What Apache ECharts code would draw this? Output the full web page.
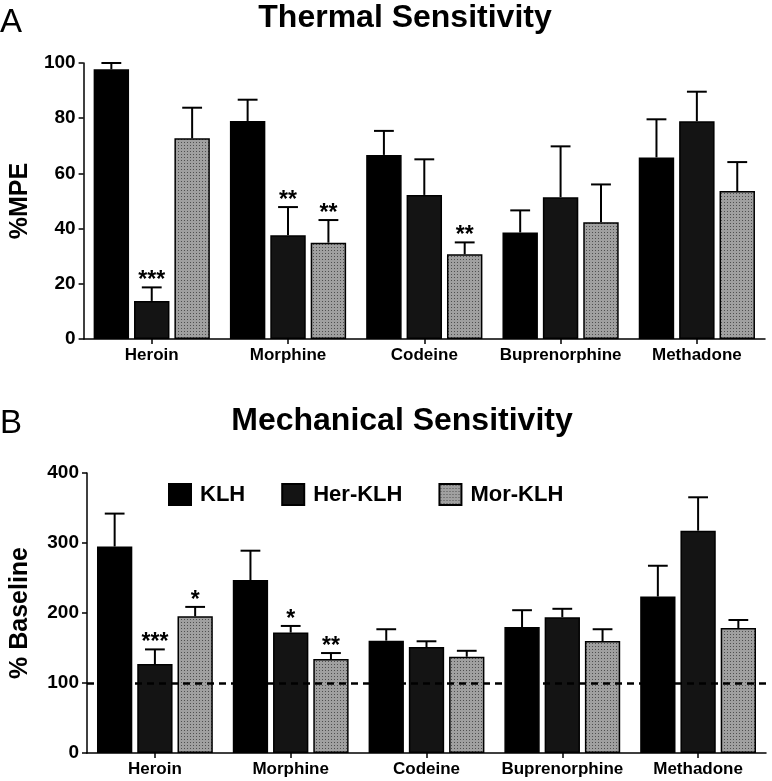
<!DOCTYPE html>
<html><head><meta charset="utf-8">
<script src="https://cdn.jsdelivr.net/npm/echarts@6/dist/echarts.min.js"></script>
<style>html,body{margin:0;padding:0;background:#fff}#c{width:772px;height:781px}</style>
</head><body><div id="c"></div>
<script>
const categories = ['Heroin', 'Morphine', 'Codeine', 'Buprenorphine', 'Methadone'];
const seriesNames = ['KLH', 'Her-KLH', 'Mor-KLH'];

// Panel A: Thermal Sensitivity (%MPE)
const thermalKLH = [97.7, 79.0, 66.7, 38.6, 65.8];
const thermalKLHsem = [2.3, 7.7, 8.7, 8.0, 13.8];
const thermalHer = [13.8, 37.6, 52.2, 51.4, 78.9];
const thermalHersem = [4.9, 10.2, 12.9, 18.4, 10.7];
const thermalMor = [72.7, 34.9, 30.7, 42.3, 53.6];
const thermalMorsem = [11.1, 8.2, 4.3, 13.7, 10.5];
const thermalStarsKLH = ['', '', '', '', ''];
const thermalStarsHer = ['***', '**', '', '', ''];
const thermalStarsMor = ['', '**', '**', '', ''];

// Panel B: Mechanical Sensitivity (% Baseline)
const mechKLH = [295, 247, 160.5, 180, 223.5];
const mechKLHsem = [47, 42, 16.3, 24, 44];
const mechHer = [127, 172, 151.4, 194, 317.6];
const mechHersem = [21, 9.5, 8.2, 12, 47.7];
const mechMor = [195.4, 134.2, 137.5, 160, 178.6];
const mechMorsem = [13.3, 8.6, 8.5, 16.8, 11.4];
const mechStarsKLH = ['', '', '', '', ''];
const mechStarsHer = ['***', '*', '', '', ''];
const mechStarsMor = ['*', '**', '', '', ''];

const baselineValue = 100;
const thermalTicks = {min: 0, max: 100, interval: 20};
const mechTicks = {min: 0, max: 400, interval: 100};

// dotted pattern for Mor-KLH
const pc = document.createElement('canvas');
pc.width = 3; pc.height = 3;
const pctx = pc.getContext('2d');
pctx.fillStyle = '#a0a0a0'; pctx.fillRect(0, 0, 3, 3);
pctx.fillStyle = '#505050'; pctx.fillRect(1, 1, 1, 1);
const dotPattern = {image: pc, repeat: 'repeat'};

const FONT = 'Liberation Sans, Arial, sans-serif';
const BW = 0.26, GAP = 0.14;
const fills = ['#000000', '#141414', dotPattern];

function barSeries(name, idx, data, gi) {
  return {
    type: 'bar', name: name, xAxisIndex: gi, yAxisIndex: gi, data: data,
    barWidth: (BW * 100) + '%', barGap: (GAP * 100) + '%',
    itemStyle: {color: fills[idx], borderColor: '#000', borderWidth: 1.5},
    emphasis: {disabled: true}, z: 2
  };
}
function errSeries(idx, means, sems, stars, gi) {
  return {
    type: 'custom', xAxisIndex: gi, yAxisIndex: gi, z: 5, silent: true,
    data: means.map((m, i) => [i, m, sems[i]]),
    encode: {x: 0, y: 1},
    renderItem: function (params, api) {
      const c = api.coord([api.value(0), api.value(1)]);
      const t = api.coord([api.value(0), api.value(1) + api.value(2)]);
      const band = api.size([1, 0])[0];
      const bw = band * BW;
      const x = c[0] + (idx - 1) * bw * (1 + GAP);
      const cap = bw * 0.28;
      const children = [
        {type: 'line', shape: {x1: x, y1: c[1], x2: x, y2: t[1]}, style: {stroke: '#000', lineWidth: 2}},
        {type: 'line', shape: {x1: x - cap, y1: t[1], x2: x + cap, y2: t[1]}, style: {stroke: '#000', lineWidth: 2}}
      ];
      const s = stars[params.dataIndex];
      if (s) {
        children.push({type: 'text', style: {text: s, x: x, y: t[1] + 5, align: 'center', verticalAlign: 'bottom',
          fill: '#000', font: 'bold 23px ' + FONT}});
      }
      return {type: 'group', children: children};
    }
  };
}

const yAxisCommon = {
  type: 'value', nameLocation: 'middle',
  nameTextStyle: {fontSize: 25, fontWeight: 'bold', color: '#000', fontFamily: FONT},
  axisLine: {show: true, lineStyle: {color: '#000', width: 1.5}},
  axisTick: {show: true, length: 5, lineStyle: {color: '#000', width: 1.5}},
  axisLabel: {fontSize: 19, fontWeight: 'bold', color: '#000', fontFamily: FONT, margin: 8},
  splitLine: {show: false}
};
const xAxisCommon = {
  type: 'category', data: categories, boundaryGap: true,
  axisLine: {show: true, lineStyle: {color: '#000', width: 1.5}},
  axisTick: {show: true, alignWithLabel: true, length: 5, lineStyle: {color: '#000', width: 1.5}},
  axisLabel: {fontSize: 17, fontWeight: 'bold', color: '#000', fontFamily: FONT, margin: 8, interval: 0}
};

const option = {
  animation: false,
  backgroundColor: '#fff',
  title: [
    {text: 'A', left: 0, top: 6, padding: 0, textStyle: {fontSize: 33, fontWeight: 'normal', color: '#000', fontFamily: FONT}},
    {text: 'Thermal Sensitivity', left: 405, textAlign: 'center', top: 2, padding: 0, textStyle: {fontSize: 32, fontWeight: 'bold', color: '#000', fontFamily: FONT}},
    {text: 'B', left: 0, top: 407, padding: 0, textStyle: {fontSize: 33, fontWeight: 'normal', color: '#000', fontFamily: FONT}},
    {text: 'Mechanical Sensitivity', left: 402, textAlign: 'center', top: 405, padding: 0, textStyle: {fontSize: 32, fontWeight: 'bold', color: '#000', fontFamily: FONT}}
  ],
  legend: {
    data: seriesNames.map(n => ({name: n, icon: 'rect'})), left: 168, top: 483, padding: 0, itemWidth: 22, itemHeight: 21, itemGap: 36,
    selectedMode: false,
    textStyle: {fontSize: 22, fontWeight: 'bold', color: '#000', fontFamily: FONT, padding: [0, 0, 0, 4]}
  },
  grid: [
    {left: 72, top: 63, right: 7, bottom: 442},
    {left: 76, top: 473, right: 6, bottom: 28}
  ],
  xAxis: [
    Object.assign({}, xAxisCommon, {gridIndex: 0}),
    Object.assign({}, xAxisCommon, {gridIndex: 1})
  ],
  yAxis: [
    Object.assign({}, yAxisCommon, thermalTicks, {gridIndex: 0, name: '%MPE', nameGap: 42}),
    Object.assign({}, yAxisCommon, mechTicks, {gridIndex: 1, name: '% Baseline', nameGap: 54})
  ],
  series: [
    barSeries('KLH', 0, thermalKLH, 0),
    barSeries('Her-KLH', 1, thermalHer, 0),
    barSeries('Mor-KLH', 2, thermalMor, 0),
    errSeries(0, thermalKLH, thermalKLHsem, thermalStarsKLH, 0),
    errSeries(1, thermalHer, thermalHersem, thermalStarsHer, 0),
    errSeries(2, thermalMor, thermalMorsem, thermalStarsMor, 0),
    Object.assign(barSeries('KLH', 0, mechKLH, 1), {
      markLine: {silent: true, symbol: 'none', label: {show: false}, z: 10,
        lineStyle: {color: '#000', type: [7, 5], width: 2.5},
        data: [{yAxis: baselineValue}]}
    }),
    barSeries('Her-KLH', 1, mechHer, 1),
    barSeries('Mor-KLH', 2, mechMor, 1),
    errSeries(0, mechKLH, mechKLHsem, mechStarsKLH, 1),
    errSeries(1, mechHer, mechHersem, mechStarsHer, 1),
    errSeries(2, mechMor, mechMorsem, mechStarsMor, 1)
  ]
};
const chart = echarts.init(document.getElementById('c'), null, {renderer: 'canvas'});
chart.setOption(option);
</script></body></html>
